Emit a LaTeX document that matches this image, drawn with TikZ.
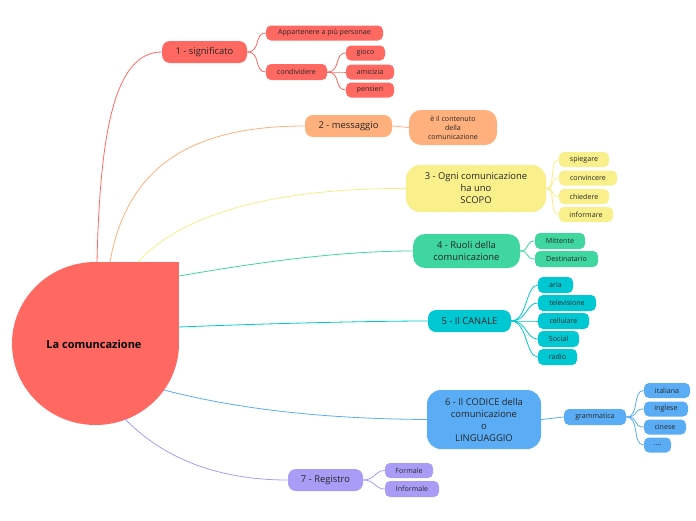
\documentclass[tikz,border=0pt]{standalone}
\usepackage{fontspec}
\setmainfont{Open Sans}
\begin{document}
\begin{tikzpicture}[x=1pt,y=-1pt,
  main/.style={rounded corners=8pt, inner sep=0pt, align=center, text=black!85, font=\fontsize{9.4}{12}\selectfont},
  sub/.style={rounded corners=5pt, inner sep=0pt, align=center, text=black!85, font=\fontsize{7.1}{9}\selectfont},
  conn/.style={line width=0.8pt},
]
\definecolor{cred}{HTML}{FF6961}
\definecolor{cora}{HTML}{FFB07C}
\definecolor{cyel}{HTML}{F9F08C}
\definecolor{cyell}{HTML}{F7EE8A}
\definecolor{cgrn}{HTML}{3FD6A0}
\definecolor{ccya}{HTML}{00C8D2}
\definecolor{cblu}{HTML}{5AADF5}
\definecolor{cpur}{HTML}{A99CF7}
\useasboundingbox (0,0) rectangle (696,520);

% central node
\fill[cred] (95.5,343.5) circle[x radius=83.5pt, y radius=81.5pt];
\fill[cred] (95.5,262) rectangle (179,343.5);
\node[font=\fontsize{11}{13}\selectfont\bfseries, text=black] (root) at (94,344) {La comuncazione};
\coordinate (r1) at (97,262);
\coordinate (r2) at (110,262);
\coordinate (r3) at (138,262);
\coordinate (r4) at (179,276);
\coordinate (r5) at (179,327);
\coordinate (r6) at (164,390);
\coordinate (r7) at (125,419);

% main nodes
\node[main, fill=cred, minimum width=85pt, minimum height=22pt] (n1) at (204.5,52) {1 - significato};
\node[main, fill=cora, minimum width=87pt, minimum height=22pt] (n2) at (348.5,126) {2 - messaggio};
\node[main, fill=cyel, rounded corners=14pt, minimum width=140pt, minimum height=47pt] (n3) at (476,188.5) {3 - Ogni comunicazione\\ha uno\\SCOPO};
\node[main, fill=cgrn, rounded corners=12pt, minimum width=107pt, minimum height=34pt] (n4) at (466.5,251) {4 - Ruoli della\\comunicazione};
\node[main, fill=ccya, minimum width=83pt, minimum height=22pt] (n5) at (469.5,321) {5 - Il CANALE};
\node[main, fill=cblu, rounded corners=14pt, minimum width=114pt, minimum height=59pt] (n6) at (484,419.5) {6 - Il CODICE della\\comunicazione\\o\\LINGUAGGIO};
\node[main, fill=cpur, minimum width=75pt, minimum height=22pt] (n7) at (325.5,480) {7 - Registro};

% root connectors
\draw[conn, cred] (r1) .. controls (100,130) and (115,52) .. (n1.west);
\draw[conn, cora] (r2) .. controls (128,160) and (200,126) .. (n2.west);
\draw[conn, cyell] (r3) .. controls (190,205) and (300,188) .. (n3.west);
\draw[conn, cgrn] (r4) .. controls (260,262) and (340,251) .. (n4.west);
\draw[conn, ccya] (r5) .. controls (280,323) and (380,321) .. (n5.west);
\draw[conn, cblu] (r6) .. controls (260,415) and (360,419) .. (n6.west);
\draw[conn, cpur] (r7) .. controls (175,470) and (240,480) .. (n7.west);

% 1 children
\node[sub, fill=cred, minimum width=117pt, minimum height=15pt] (a1) at (324.5,33) {Appartenere a più personae};
\node[sub, fill=cred, minimum width=61pt, minimum height=16pt] (a2) at (296.5,72) {condividere};
\node[sub, fill=cred, minimum width=39pt, minimum height=15pt] (a21) at (365.5,53) {gioco};
\node[sub, fill=cred, minimum width=48pt, minimum height=15pt] (a22) at (370,72) {amicizia};
\node[sub, fill=cred, minimum width=48pt, minimum height=15pt] (a23) at (370,90) {pensieri};
\foreach \t in {a1,a2} \draw[conn, cred] (n1.east) .. controls +(14,0) and +(-12,0) .. (\t.west);
\foreach \t in {a21,a22,a23} \draw[conn, cred] (a2.east) .. controls +(14,0) and +(-12,0) .. (\t.west);

% 2 children
\node[sub, fill=cora, rounded corners=12pt, minimum width=88pt, minimum height=35pt] (b1) at (453,127.5) {è il contenuto\\della\\comunicazione};
\draw[conn, cora] (n2.east) -- (b1.west);

% 3 children
\node[sub, fill=cyel, minimum width=50pt, minimum height=15pt] (c1) at (584,159.5) {spiegare};
\node[sub, fill=cyel, minimum width=58pt, minimum height=15pt] (c2) at (588,178) {convincere};
\node[sub, fill=cyel, minimum width=50pt, minimum height=15pt] (c3) at (584,196.5) {chiedere};
\node[sub, fill=cyel, minimum width=54pt, minimum height=15pt] (c4) at (586,214.5) {informare};
\foreach \t in {c1,c2,c3,c4} \draw[conn, cyell] (n3.east) .. controls +(10,0) and +(-10,0) .. (\t.west);

% 4 children
\node[sub, fill=cgrn, minimum width=50pt, minimum height=16pt] (d1) at (560,241) {Mittente};
\node[sub, fill=cgrn, minimum width=63pt, minimum height=16pt] (d2) at (566.5,259) {Destinatario};
\foreach \t in {d1,d2} \draw[conn, cgrn] (n4.east) .. controls +(10,0) and +(-10,0) .. (\t.west);

% 5 children
\node[sub, fill=ccya, minimum width=35pt, minimum height=16pt] (e1) at (555.5,285) {aria};
\node[sub, fill=ccya, minimum width=58pt, minimum height=16pt] (e2) at (567,303) {televisione};
\node[sub, fill=ccya, minimum width=51pt, minimum height=16pt] (e3) at (563.5,321) {cellulare};
\node[sub, fill=ccya, minimum width=41pt, minimum height=16pt] (e4) at (558.5,339) {Social};
\node[sub, fill=ccya, minimum width=39pt, minimum height=16pt] (e5) at (557.5,357) {radio};
\foreach \t in {e1,e2,e3,e4,e5} \draw[conn, ccya] (n5.east) .. controls +(16,0) and +(-12,0) .. (\t.west);

% 6 children
\node[sub, fill=cblu, minimum width=62pt, minimum height=16pt] (f1) at (595,417) {grammatica};
\draw[conn, cblu] (n6.east) -- (f1.west);
\node[sub, fill=cblu, minimum width=46pt, minimum height=15pt] (f11) at (667,390.5) {italiana};
\node[sub, fill=cblu, minimum width=44pt, minimum height=15pt] (f12) at (666,409) {inglese};
\node[sub, fill=cblu, minimum width=42pt, minimum height=15pt] (f13) at (665,427) {cinese};
\node[sub, fill=cblu, minimum width=27pt, minimum height=15pt] (f14) at (657.5,445) {....};
\foreach \t in {f11,f12,f13,f14} \draw[conn, cblu] (f1.east) .. controls +(14,0) and +(-12,0) .. (\t.west);

% 7 children
\node[sub, fill=cpur, minimum width=48pt, minimum height=15pt] (g1) at (409,470.5) {Formale};
\node[sub, fill=cpur, minimum width=54pt, minimum height=16pt] (g2) at (412,489) {Informale};
\foreach \t in {g1,g2} \draw[conn, cpur] (n7.east) .. controls +(12,0) and +(-10,0) .. (\t.west);
\end{tikzpicture}
\end{document}
